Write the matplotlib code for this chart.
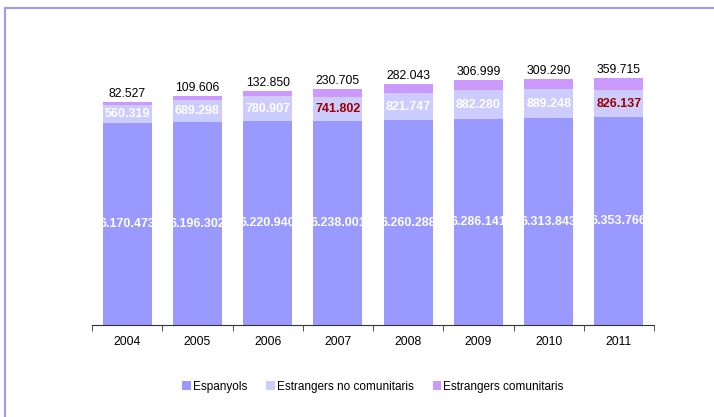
import matplotlib
matplotlib.use('Agg')
import matplotlib.pyplot as plt
from matplotlib.patches import Rectangle

plt.rcParams['font.family'] = ['Liberation Sans', 'DejaVu Sans']

years = ['2004', '2005', '2006', '2007', '2008', '2009', '2010', '2011']
espanyols = [6170473, 6196302, 6220940, 6238001, 6260288, 6286141, 6313843, 6353766]
no_comunitaris = [560319, 689298, 780907, 741802, 821747, 882280, 889248, 826137]
comunitaris = [82527, 109606, 132850, 230705, 282043, 306999, 309290, 359715]
highlight_years = ['2007', '2011']

labels = ['Espanyols', 'Estrangers no comunitaris', 'Estrangers comunitaris']
colors = ['#9999FF', '#CCCCFF', '#CC99FF']


def fmt(v):
    return '{:,}'.format(v).replace(',', '.')


fig = plt.figure(figsize=(7.14, 4.17), dpi=100)
ax = fig.add_axes([0.1289, 0.2206, 0.7871, 0.628])

# frame round the chart
fig.patches.append(Rectangle((5 / 714, -0.1), 1.2, 1 - 8 / 417 + 0.1, transform=fig.transFigure,
                             fill=False, edgecolor='#9999FF', linewidth=1.5))

x = list(range(len(years)))
bottom2 = espanyols
bottom3 = [a + b for a, b in zip(espanyols, no_comunitaris)]

b1 = ax.bar(x, espanyols, width=0.7, color=colors[0], label=labels[0])
b2 = ax.bar(x, no_comunitaris, width=0.7, bottom=bottom2, color=colors[1], label=labels[1])
b3 = ax.bar(x, comunitaris, width=0.7, bottom=bottom3, color=colors[2], label=labels[2])

for i in x:
    t = ax.text(i, espanyols[i] / 2, fmt(espanyols[i]), ha='center', va='center',
                color='white', fontsize=9, fontweight='bold')
    t.set_clip_path(b1[i])
    c = '#990000' if years[i] in highlight_years else 'white'
    ax.text(i, bottom2[i] + no_comunitaris[i] / 2, fmt(no_comunitaris[i]), ha='center', va='center',
            color=c, fontsize=9, fontweight='bold')
    ax.text(i, bottom3[i] + comunitaris[i] + 60000, fmt(comunitaris[i]), ha='center', va='bottom',
            color='black', fontsize=8.8)

ax.set_xlim(-0.5, len(years) - 0.5)
ax.set_ylim(0, 8000000)
ax.set_xticks(x)
ax.set_xticklabels(years, fontsize=8.7)
ax.set_xticks([i - 0.5 for i in range(len(years) + 1)], minor=True)
ax.tick_params(axis='x', which='major', length=0, pad=8)
ax.tick_params(axis='x', which='minor', length=4, direction='out', color='#333333')
ax.set_yticks([])
for s in ['top', 'right', 'left']:
    ax.spines[s].set_visible(False)
ax.spines['bottom'].set_color('#333333')

fig.legend(handles=[b1, b2, b3], labels=labels, loc='center', bbox_to_anchor=(0.5225, 0.073),
           ncol=3, frameon=False, fontsize=8.5, handlelength=0.7, handleheight=0.7,
           handletextpad=0.2, columnspacing=1.6)

plt.savefig('out.png', dpi=100)
